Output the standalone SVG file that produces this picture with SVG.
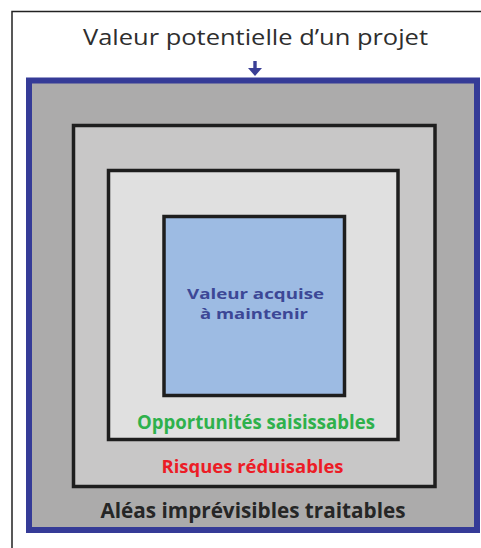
<svg xmlns="http://www.w3.org/2000/svg" width="481" height="548" viewBox="0 0 481 548">
<style>
text{font-family:"Open Sans","Noto Sans","Liberation Sans",sans-serif;text-anchor:middle}
.b{font-weight:bold}
.box{stroke:#1e1e1e;stroke-width:3.5}
</style>
<rect width="481" height="548" fill="#ffffff"/>
<g id="frame">
<path d="M12,548 V11.5 H481" fill="none" stroke="#222" stroke-width="1.5"/>
</g>
<g id="title">
<text x="255.5" y="45" font-size="21.5" fill="#2e2e2e" textLength="345" lengthAdjust="spacingAndGlyphs">Valeur potentielle d’un projet</text>
</g>
<g id="connectors">
<path d="M253.3,61 H256.7 V68 H262 L255,76 L248,68 H253.3 Z" fill="#3a3f96"/>
</g>
<g id="aleas">
<rect x="29" y="80.5" width="448" height="449.5" fill="#acabab" stroke="#353b97" stroke-width="6"/>
<text class="b" x="253" y="518" font-size="21.5" fill="#262626" textLength="305" lengthAdjust="spacingAndGlyphs">Aléas imprévisibles traitables</text>
</g>
<g id="risques">
<rect class="box" x="73.5" y="125.5" width="361.5" height="361" fill="#c8c7c7"/>
<text class="b" x="252.5" y="473" font-size="18" fill="#ec1c26" textLength="182" lengthAdjust="spacingAndGlyphs">Risques réduisables</text>
</g>
<g id="opportunites">
<rect class="box" x="108.5" y="170.5" width="289.5" height="269" fill="#e0e0e0"/>
<text class="b" x="256" y="429" font-size="19" fill="#2eb14c" textLength="238" lengthAdjust="spacingAndGlyphs">Opportunités saisissables</text>
</g>
<g id="valeur">
<rect class="box" x="164" y="216.5" width="180.5" height="179" fill="#9dbbe3"/>
<text class="b" x="255.5" y="298.5" font-size="15" fill="#3c4796" textLength="137" lengthAdjust="spacingAndGlyphs">Valeur acquise</text>
<text class="b" x="254" y="319" font-size="15" fill="#3c4796" textLength="108" lengthAdjust="spacingAndGlyphs">à maintenir</text>
</g>
</svg>
